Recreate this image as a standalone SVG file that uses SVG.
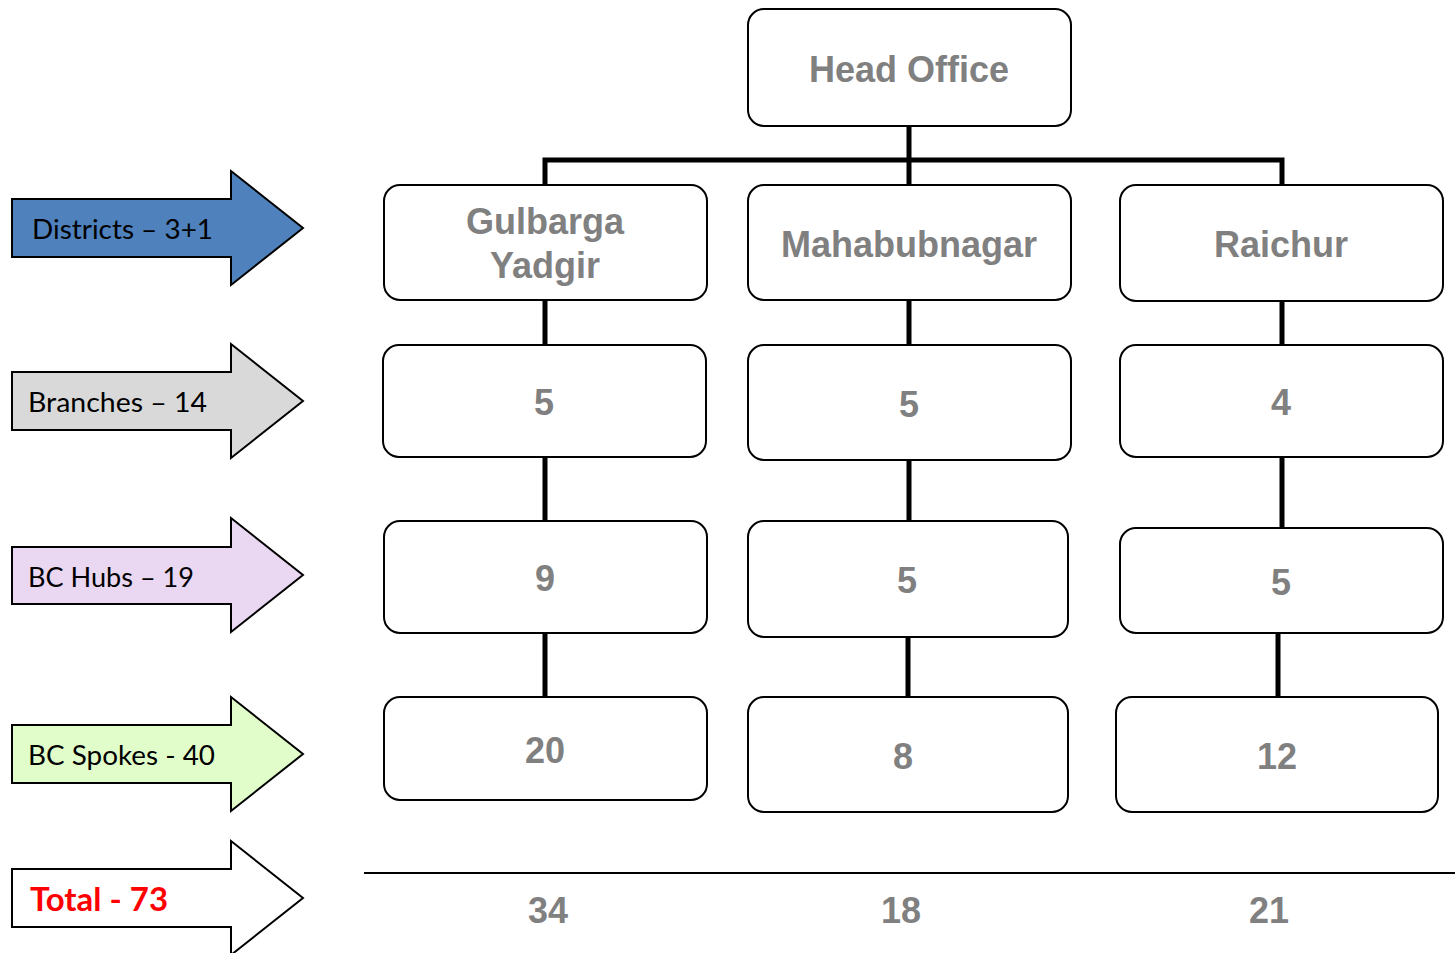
<svg xmlns="http://www.w3.org/2000/svg" width="1455" height="953" viewBox="0 0 1455 953">
<style>
.box{fill:#fff;stroke:#000;stroke-width:2}
.nt{font-family:"Liberation Sans",Arial,sans-serif;font-weight:bold;font-size:36px;fill:#808080;text-anchor:middle}
.arr{stroke:#000;stroke-width:2;stroke-linejoin:miter}
.lt{font-family:Lato,"Liberation Sans",sans-serif;font-size:27px;fill:#000}
.con{stroke:#000;stroke-width:5;fill:none}
</style>
<rect width="1455" height="953" fill="#fff"/>
<g id="legend">
<g id="arrow-districts"><path class="arr" fill="#4f81bd" d="M12,199 H231 V171 L303,228 L231,285 V257 H12 Z"/><text class="lt" x="32" y="239" textLength="181" lengthAdjust="spacingAndGlyphs">Districts – 3+1</text></g>
<g id="arrow-branches"><path class="arr" fill="#d9d9d9" d="M12,372 H231 V344 L303,401 L231,458 V430 H12 Z"/><text class="lt" x="28" y="412" textLength="179" lengthAdjust="spacingAndGlyphs">Branches – 14</text></g>
<g id="arrow-hubs"><path class="arr" fill="#ead7f2" d="M12,547 H231 V518 L303,575 L231,632 V604 H12 Z"/><text class="lt" x="28" y="587" textLength="166" lengthAdjust="spacingAndGlyphs">BC Hubs – 19</text></g>
<g id="arrow-spokes"><path class="arr" fill="#e1fdc9" d="M12,725 H231 V697 L303,754 L231,811 V783 H12 Z"/><text class="lt" x="28" y="765" textLength="187" lengthAdjust="spacingAndGlyphs">BC Spokes - 40</text></g>
<g id="arrow-total"><path class="arr" fill="#fff" d="M12,869 H231 V841 L303,898 L231,955 V927 H12 Z"/><text x="30" y="911" font-family="Lato,'Liberation Sans',sans-serif" font-weight="bold" font-size="32" fill="#ff0000" textLength="138" lengthAdjust="spacingAndGlyphs">Total - 73</text></g>
</g>
<g id="connectors">
<path class="con" d="M909,126 V185 M545,185 V160 H1282 V185"/>
<path class="con" d="M545,300 V345 M545,457 V521 M545,633 V697"/>
<path class="con" d="M909,300 V345 M909,457 V521 M908,633 V697"/>
<path class="con" d="M1282,301 V345 M1282,457 V528 M1278,633 V697"/>
</g>
<g id="head-office"><rect class="box" x="748" y="9" width="323" height="117" rx="16"/><text class="nt" x="909" y="82">Head Office</text></g>
<g id="gulbarga"><rect class="box" x="384" y="185" width="323" height="115" rx="16"/><text class="nt" x="545" y="234">Gulbarga</text><text class="nt" x="545" y="278">Yadgir</text></g>
<g id="mahabubnagar"><rect class="box" x="748" y="185" width="323" height="115" rx="16"/><text class="nt" x="909" y="257">Mahabubnagar</text></g>
<g id="raichur"><rect class="box" x="1120" y="185" width="323" height="116" rx="16"/><text class="nt" x="1281" y="257">Raichur</text></g>
<g id="branches-1"><rect class="box" x="383" y="345" width="323" height="112" rx="16"/><text class="nt" x="544" y="415">5</text></g>
<g id="branches-2"><rect class="box" x="748" y="345" width="323" height="115" rx="16"/><text class="nt" x="909" y="417">5</text></g>
<g id="branches-3"><rect class="box" x="1120" y="345" width="323" height="112" rx="16"/><text class="nt" x="1281" y="415">4</text></g>
<g id="hubs-1"><rect class="box" x="384" y="521" width="323" height="112" rx="16"/><text class="nt" x="545" y="591">9</text></g>
<g id="hubs-2"><rect class="box" x="748" y="521" width="320" height="116" rx="16"/><text class="nt" x="907" y="593">5</text></g>
<g id="hubs-3"><rect class="box" x="1120" y="528" width="323" height="105" rx="16"/><text class="nt" x="1281" y="595">5</text></g>
<g id="spokes-1"><rect class="box" x="384" y="697" width="323" height="103" rx="16"/><text class="nt" x="545" y="763">20</text></g>
<g id="spokes-2"><rect class="box" x="748" y="697" width="320" height="115" rx="16"/><text class="nt" x="903" y="769">8</text></g>
<g id="spokes-3"><rect class="box" x="1116" y="697" width="322" height="115" rx="16"/><text class="nt" x="1277" y="769">12</text></g>
<g id="totals">
<line x1="364" y1="873" x2="1455" y2="873" stroke="#000" stroke-width="2"/>
<text class="nt" x="548" y="923" textLength="40" lengthAdjust="spacingAndGlyphs">34</text>
<text class="nt" x="901" y="923" textLength="40" lengthAdjust="spacingAndGlyphs">18</text>
<text class="nt" x="1269" y="923" textLength="40" lengthAdjust="spacingAndGlyphs">21</text>
</g>
</svg>
